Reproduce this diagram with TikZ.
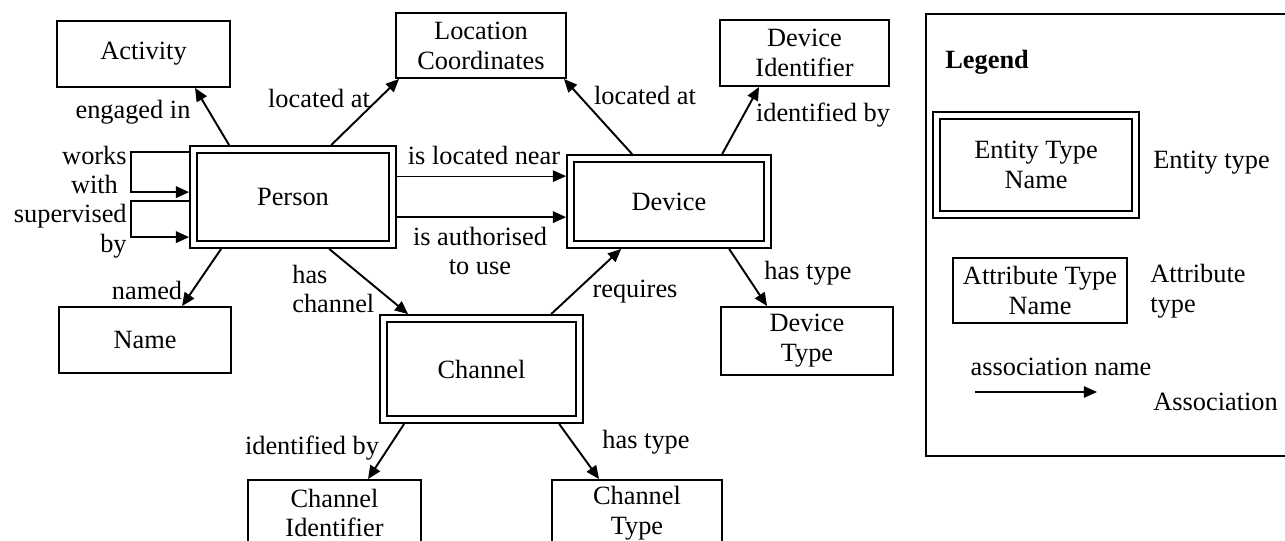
\documentclass[tikz,border=0pt]{standalone}
\usepackage{fontspec}
\setmainfont{Liberation Serif}
\usetikzlibrary{arrows.meta,calc}
\begin{document}
\begin{tikzpicture}[x=0.02cm,y=-0.02cm,
  every node/.style={font=\fontsize{15}{17}\selectfont},
  attrbox/.style={draw,line width=1.1pt,align=center,inner sep=0pt},
  entitybox/.style={draw,line width=1pt,double,double distance=3pt,
    outer sep=2.5pt,align=center,inner sep=0pt},
  lbl/.style={inner sep=0pt,align=center},
  assoc/.style={line width=1.1pt,-{Triangle[length=7.5pt,width=6.5pt]}},
  thinassoc/.style={line width=0.6pt,-{Triangle[length=7.5pt,width=6.5pt]}}]
\useasboundingbox (0,0) rectangle (1285,541);
\clip (0,0) rectangle (1285,541);
\fill[white] (0,0) rectangle (1285,541);

% entity types
\node[entitybox,minimum width=3.98cm,minimum height=1.90cm] (person) at (293,197) {Person};
\node[entitybox,minimum width=3.94cm,minimum height=1.72cm] (device) at (669,201.5) {Device};
\node[entitybox,minimum width=3.92cm,minimum height=2.02cm] (channel) at (481.5,369) {Channel};

% attribute types
\node[attrbox,minimum width=3.46cm,minimum height=1.32cm] (activity) at (143.5,54) {Activity};
\node[attrbox,minimum width=3.40cm,minimum height=1.30cm] (location) at (481,45.5) {Location\\Coordinates};
\node[attrbox,minimum width=3.38cm,minimum height=1.32cm] (devid) at (804.5,53) {Device\\Identifier};
\node[attrbox,minimum width=3.44cm,minimum height=1.32cm] (name) at (145,340) {Name};
\node[attrbox,minimum width=3.44cm,minimum height=1.36cm] (devtype) at (807,341) {Device\\Type};
\node[attrbox,minimum width=3.46cm,minimum height=1.32cm] (chanid) at (334.5,513) {Channel\\Identifier};
\node[attrbox,minimum width=3.40cm,minimum height=1.32cm] (chantype) at (637,513) {Channel\\Type};

% associations
\draw[assoc] ($(person.north west)+(40,0)$) -- ($(activity.south west)+(139,0)$);
\draw[assoc] ($(person.north west)+(142,0)$) -- ($(location.south west)+(4,0)$);
\draw[assoc] ($(device.north west)+(66,0)$) -- ($(location.south east)+(-3,0)$);
\draw[assoc] ($(device.north west)+(156,0)$) -- ($(devid.south west)+(40,0)$);
\coordinate (nearfrom) at ($(person.north east)+(0,31)$);
\draw[thinassoc] (nearfrom) -- (nearfrom -| device.west);
\coordinate (authfrom) at ($(person.north east)+(0,72)$);
\draw[assoc] (authfrom) -- (authfrom -| device.west);
\draw[assoc] ($(person.north west)+(0,7)$) -- ++(-58,0) -- ++(0,40) -- ($(person.north west)+(0,47)$);
\draw[assoc] ($(person.north west)+(0,56)$) -- ++(-58,0) -- ++(0,36) -- ($(person.north west)+(0,92)$);
\draw[assoc] ($(person.south west)+(32,0)$) -- ($(name.north west)+(124,0)$);
\draw[assoc] ($(person.south west)+(140,0)$) -- ($(channel.north west)+(29,0)$);
\draw[assoc] ($(channel.north west)+(172,0)$) -- ($(device.south west)+(55,0)$);
\draw[assoc] ($(device.south west)+(163,0)$) -- ($(devtype.north west)+(47,0)$);
\draw[assoc] ($(channel.south west)+(25,0)$) -- ($(chanid.north west)+(121,0)$);
\draw[assoc] ($(channel.south west)+(180,0)$) -- ($(chantype.north west)+(48,0)$);

% association names
\node[lbl] (l-engaged) at (133,112) {engaged in};
\node[lbl] (l-locp) at (319,98) {located at};
\node[lbl] (l-locd) at (645,95) {located at};
\node[lbl] (l-idd) at (823,115) {identified by};
\node[lbl] (l-near) at (484,155) {is located near};
\node[lbl] (l-auth) at (480,251) {is authorised\\to use};
\node[lbl,anchor=east] (l-works) at (127,170) {works\\with};
\node[lbl,anchor=east,align=right] (l-sup) at (127,231) {supervised\\by};
\node[lbl] (l-named) at (147,290) {named};
\node[lbl,anchor=west,align=left] (l-haschan) at (292,289) {has\\channel};
\node[lbl] (l-req) at (635,292) {requires};
\node[lbl] (l-dtype) at (808,273) {has type};
\node[lbl] (l-idc) at (312,448) {identified by};
\node[lbl] (l-ctype) at (646,442) {has type};

% legend
\node[draw,line width=1pt,anchor=north west,minimum width=7.6cm,minimum height=8.84cm,inner sep=0pt] (legendframe) at (925,13) {};
\node[lbl,anchor=west,font=\fontsize{15}{17}\selectfont\bfseries] (legendtitle) at (945,62) {Legend};
\node[entitybox,minimum width=3.98cm,minimum height=1.98cm] (legent) at (1036,165) {Entity Type\\Name};
\node[lbl,anchor=west] (legentlbl) at (1153,163) {Entity type};
\node[attrbox,minimum width=3.48cm,minimum height=1.30cm] (legattr) at (1040,290.5) {Attribute Type\\Name};
\node[lbl,anchor=west,align=left] (legattrlbl) at (1150,291) {Attribute\\type};
\node[lbl] (legassocname) at (1061,367) {association name};
\coordinate (legarrowfrom) at (975,392);
\coordinate (legarrowto) at (1097,392);
\draw[line width=0.9pt,-{Triangle[length=7.5pt,width=6.5pt]}] (legarrowfrom) -- (legarrowto);
\node[lbl,anchor=west] (legassoclbl) at (1153,402) {Association};
\end{tikzpicture}
\end{document}
